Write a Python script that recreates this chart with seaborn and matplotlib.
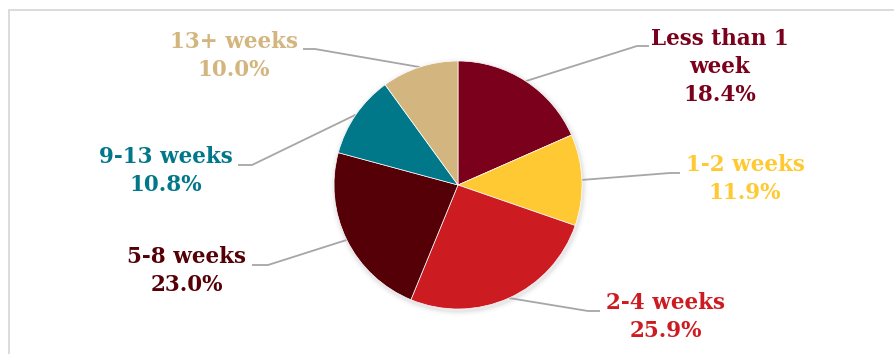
import matplotlib
matplotlib.use("Agg")
import matplotlib.pyplot as plt
import seaborn as sns
from matplotlib.patches import Circle
from matplotlib.lines import Line2D
import numpy as np

categories = ["Less than 1\nweek", "1-2 weeks", "2-4 weeks", "5-8 weeks", "9-13 weeks", "13+ weeks"]
values = [18.4, 11.9, 25.9, 23.0, 10.8, 10.0]
colors = ["#7A001C", "#FFC933", "#CC1C22", "#550007", "#00788A", "#D3B67F"]

sns.set_theme(style="white")
plt.rcParams['font.family'] = ['DejaVu Serif']

W, H = 895, 354
fig = plt.figure(figsize=(W / 100, H / 100), dpi=100)
ax = fig.add_axes([0, 0, 1, 1])

cx, cy, r = 458, 185, 124

# soft shadow
for k, a in [(5, 0.02), (3, 0.03), (1.5, 0.04)]:
    ax.add_patch(Circle((cx + 1, cy + 2), r + k, color="black", alpha=a, lw=0, zorder=0))

wedges, _ = ax.pie(values, colors=colors, startangle=-90, counterclock=True,
                   center=(cx, cy), radius=r, frame=True,
                   wedgeprops=dict(linewidth=0.5, edgecolor="white"))
for w in wedges:
    w.set_zorder(2)

ax.set_xlim(0, W)
ax.set_ylim(H, 0)
ax.set_aspect("equal")
ax.set_xticks([])
ax.set_yticks([])
for s in ax.spines.values():
    s.set_visible(False)

# label layout: (text center x, text center y, elbow x, elbow y, end x)
layout = [
    (720, 67, 637, 46, 649),
    (745, 179, 670, 173, 680),
    (666, 317, 588, 311, 600),
    (187, 271, 268, 265, 252),
    (166, 171, 252, 165, 238),
    (234, 56, 315, 49, 303),
]

for w, cat, val, col, (tx, ty, ex, ey, hx) in zip(wedges, categories, values, colors, layout):
    mid = np.deg2rad((w.theta1 + w.theta2) / 2)
    ax_, ay_ = cx + r * np.cos(mid), cy + r * np.sin(mid)
    ax.plot([ax_, ex, hx], [ay_, ey, ey], color="#A6A6A6", lw=1.3, zorder=1,
            solid_capstyle="butt")
    ax.text(tx, ty, f"{cat}\n{val:.1f}%", ha="center", va="center", color=col,
            fontsize=15.5, fontweight="bold", linespacing=1.38, zorder=3)

# outer chart frame
fig.add_artist(Line2D([9 / W, 1], [1 - 10 / H, 1 - 10 / H], color="#D9D9D9", lw=1.3,
                      transform=fig.transFigure))
fig.add_artist(Line2D([9 / W, 9 / W], [0, 1 - 10 / H], color="#D9D9D9", lw=1.3,
                      transform=fig.transFigure))

fig.savefig("out.png", dpi=100, facecolor="white")
